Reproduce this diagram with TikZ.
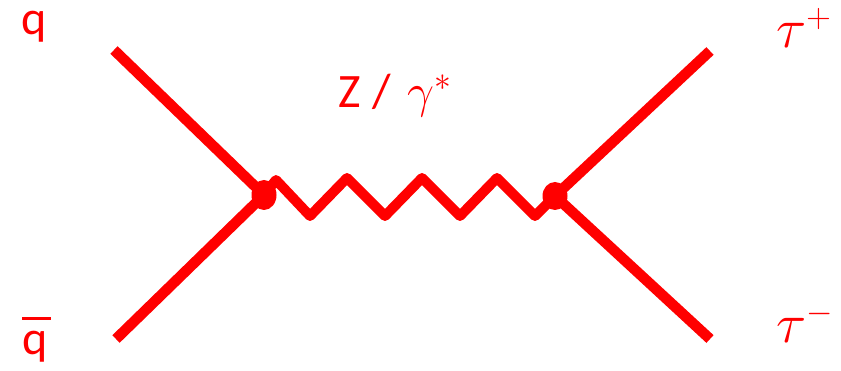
\documentclass[tikz,border=0pt]{standalone}
\usepackage{fix-cm}
\usepackage{fontspec}
\newfontfamily\calib{Carlito}
\definecolor{fred}{RGB}{255,0,0}
\newcommand{\supsym}[1]{\mbox{\fontsize{34}{34}\selectfont$#1$}}
\begin{document}
\begin{tikzpicture}[x=1pt,y=-1pt,
  fermion/.style={draw=fred,line width=10.5pt,line cap=butt},
  boson/.style={draw=fred,line width=10pt,line join=round,line cap=round},
  lbl/.style={text=fred,inner sep=0pt,anchor=base},
  taulbl/.style={lbl,font=\fontsize{56}{60}\selectfont},
  every node/.append style={font=\calib\fontsize{48}{56}\selectfont}]
\useasboundingbox (0,0) rectangle (841,371);
\coordinate (vl) at (264,195);
\coordinate (vr) at (555,196);
\coordinate (q1) at (114,50);
\coordinate (q2) at (116,339);
\coordinate (t1) at (710,51);
\coordinate (t2) at (710,339);
\draw[fermion] (q1) -- (vl);
\draw[fermion] (q2) -- (vl);
\draw[fermion] (t1) -- (vr);
\draw[fermion] (t2) -- (vr);
\draw[boson] (vl) -- (276,180) -- (310,216) -- (347,178) -- (385,216) -- (422,178) -- (460,216) -- (497,178) -- (535,216) -- (vr);
\fill[fred] (vl) ellipse [x radius=12.5, y radius=15];
\fill[fred] (vr) ellipse [x radius=12.5, y radius=14];
\node[lbl] (lq) at (34,35) {q};
\node[lbl,anchor=base west] (lqb) at (22,355) {\rlap{\rule[35pt]{29pt}{2.6pt}}q};
\node[lbl,anchor=base west] (lz) at (338,108) {Z\hspace{12pt}/\hspace{16pt}$\gamma^*$};
\node[taulbl,anchor=base west] (ltp) at (776,48) {$\tau^{\supsym{+}}$};
\node[taulbl,anchor=base west] (ltm) at (776,343) {$\tau^{\supsym{-}}$};
\end{tikzpicture}
\end{document}
